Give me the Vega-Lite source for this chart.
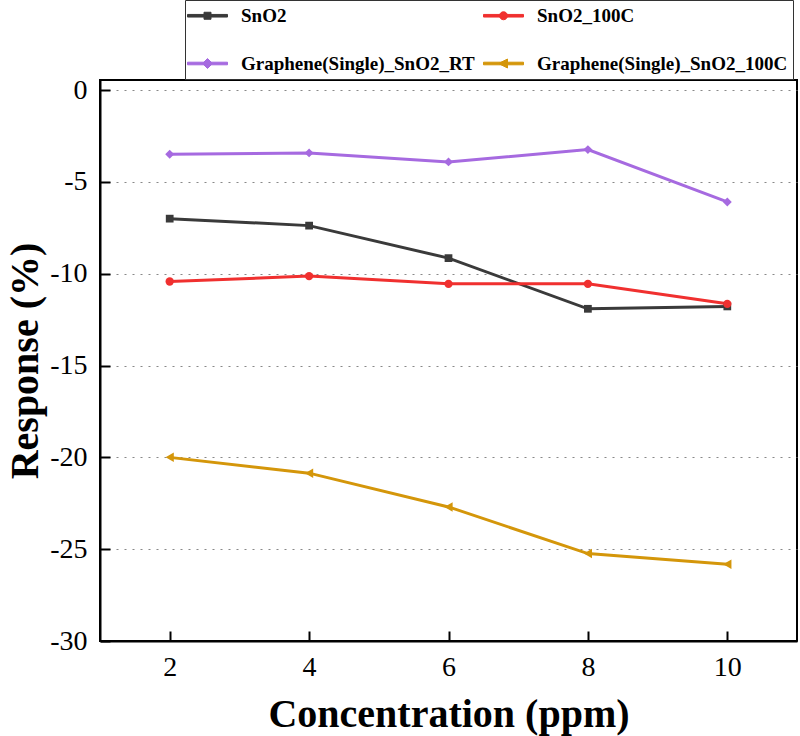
{
  "$schema": "https://vega.github.io/schema/vega-lite/v6.json",
  "width": 697,
  "height": 561,
  "autosize": {"type": "none"},
  "padding": {"left": 100, "top": 80, "right": 3, "bottom": 95},
  "background": "white",
  "config": {
    "view": {"stroke": "black", "strokeWidth": 2},
    "font": "Liberation Serif, Times New Roman, serif",
    "axis": {
      "labelFont": "Liberation Serif, Times New Roman, serif",
      "labelFontSize": 28,
      "labelColor": "black",
      "titleFont": "Liberation Serif, Times New Roman, serif",
      "titleFontSize": 40,
      "titleFontWeight": "bold",
      "titleColor": "black",
      "domainColor": "black",
      "domainWidth": 2,
      "tickColor": "black",
      "tickWidth": 2,
      "tickSize": -10
    }
  },
  "data": {
    "values": [
      {"series": "SnO2", "conc": 2, "resp": -7.0},
      {"series": "SnO2", "conc": 4, "resp": -7.38},
      {"series": "SnO2", "conc": 6, "resp": -9.15},
      {"series": "SnO2", "conc": 8, "resp": -11.91},
      {"series": "SnO2", "conc": 10, "resp": -11.78},
      {"series": "SnO2_100C", "conc": 2, "resp": -10.42},
      {"series": "SnO2_100C", "conc": 4, "resp": -10.13},
      {"series": "SnO2_100C", "conc": 6, "resp": -10.55},
      {"series": "SnO2_100C", "conc": 8, "resp": -10.55},
      {"series": "SnO2_100C", "conc": 10, "resp": -11.64},
      {"series": "Graphene(Single)_SnO2_RT", "conc": 2, "resp": -3.49},
      {"series": "Graphene(Single)_SnO2_RT", "conc": 4, "resp": -3.42},
      {"series": "Graphene(Single)_SnO2_RT", "conc": 6, "resp": -3.91},
      {"series": "Graphene(Single)_SnO2_RT", "conc": 8, "resp": -3.24},
      {"series": "Graphene(Single)_SnO2_RT", "conc": 10, "resp": -6.09},
      {"series": "Graphene(Single)_SnO2_100C", "conc": 2, "resp": -20.0},
      {"series": "Graphene(Single)_SnO2_100C", "conc": 4, "resp": -20.86},
      {"series": "Graphene(Single)_SnO2_100C", "conc": 6, "resp": -22.7},
      {"series": "Graphene(Single)_SnO2_100C", "conc": 8, "resp": -25.24},
      {"series": "Graphene(Single)_SnO2_100C", "conc": 10, "resp": -25.82}
    ]
  },
  "encoding": {
    "x": {
      "field": "conc", "type": "quantitative",
      "scale": {"domain": [1, 11], "nice": false, "zero": false},
      "axis": {"values": [2, 4, 6, 8, 10], "grid": false, "title": "Concentration (ppm)", "labelPadding": 22, "titlePadding": 13}
    },
    "y": {
      "field": "resp", "type": "quantitative",
      "scale": {"domain": [-30, 0.55], "nice": false, "zero": false},
      "axis": {
        "values": [-30, -25, -20, -15, -10, -5, 0],
        "grid": true, "gridDash": [2, 6], "gridColor": "#888888", "gridWidth": 1.2,
        "labelExpr": "toString(datum.value)",
        "labelPadding": 23,
        "title": "Response (%)",
        "titlePadding": 4
      }
    },
    "color": {
      "field": "series", "type": "nominal",
      "scale": {
        "domain": ["SnO2", "SnO2_100C", "Graphene(Single)_SnO2_RT", "Graphene(Single)_SnO2_100C"],
        "range": ["#3a3a3a", "#f0302f", "#a66ae0", "#d4960a"]
      },
      "legend": {
        "title": null,
        "orient": "none",
        "direction": "horizontal",
        "legendX": 85,
        "legendY": -80,
        "columns": 2,
        "columnPadding": 6,
        "rowPadding": 27,
        "padding": 5,
        "strokeColor": "#333333",
        "fillColor": "white",
        "labelFont": "Liberation Serif, Times New Roman, serif",
        "labelFontSize": 19,
        "labelFontWeight": "bold",
        "labelColor": "black",
        "labelOffset": 23,
        "labelLimit": 400,
        "symbolSize": 400,
        "symbolOffset": 7,
        "symbolStrokeWidth": 1,
        "symbolOpacity": 1,
        "symbolType": {"expr": "datum.value === 'SnO2' ? 'M-2,-0.13H2V0.13H-2ZM-0.35,-0.35H0.35V0.35H-0.35Z' : datum.value === 'SnO2_100C' ? 'M-2,-0.13H2V0.13H-2ZM-0.4,0A0.4,0.4 0 1,1 0.4,0A0.4,0.4 0 1,1 -0.4,0Z' : datum.value === 'Graphene(Single)_SnO2_RT' ? 'M-2,-0.13H2V0.13H-2ZM0,-0.5L0.5,0L0,0.5L-0.5,0Z' : 'M-2,-0.13H2V0.13H-2ZM-0.5,0L0.4,-0.45L0.4,0.45Z'"}
      }
    }
  },
  "layer": [
    {"mark": {"type": "line", "strokeWidth": 3}},
    {
      "transform": [{"filter": "datum.series === 'SnO2'"}],
      "mark": {"type": "point", "filled": true, "opacity": 1, "size": 60, "shape": "square"}
    },
    {
      "transform": [{"filter": "datum.series === 'SnO2_100C'"}],
      "mark": {"type": "point", "filled": true, "opacity": 1, "size": 70, "shape": "circle"}
    },
    {
      "transform": [{"filter": "datum.series === 'Graphene(Single)_SnO2_RT'"}],
      "mark": {"type": "point", "filled": true, "opacity": 1, "size": 80, "shape": "diamond"}
    },
    {
      "transform": [{"filter": "datum.series === 'Graphene(Single)_SnO2_100C'"}],
      "mark": {"type": "point", "filled": true, "opacity": 1, "size": 90, "shape": "triangle-left"}
    }
  ]
}
